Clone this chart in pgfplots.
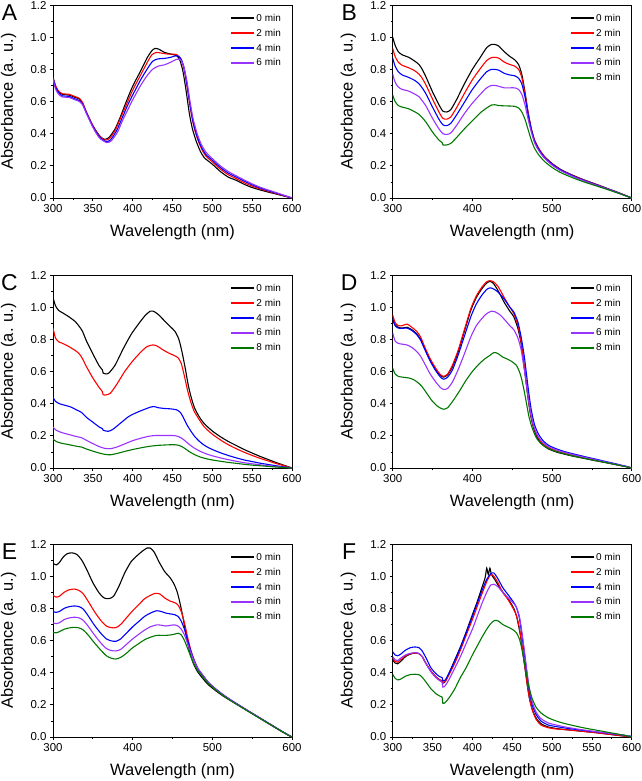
\documentclass[border=0pt]{standalone}
\usepackage{fontspec}
\setmainfont{Liberation Sans}
\usepackage{pgfplots}
\pgfplotsset{compat=1.18}
\definecolor{cBlack}{RGB}{0,0,0}
\definecolor{cRed}{RGB}{255,0,0}
\definecolor{cBlue}{RGB}{0,0,255}
\definecolor{cPurple}{RGB}{153,51,255}
\definecolor{cGreen}{RGB}{0,120,0}
\pgfplotsset{
  panel/.style={
    width=239bp, height=193bp, scale only axis,
    xmin=300, xmax=600, ymin=0, ymax=1.2,
    ytick={0,0.2,0.4,0.6,0.8,1.0,1.2},
    minor y tick num=1, minor x tick num=1,
    tick align=outside, xtick pos=left, ytick pos=left,
    major tick length=3bp, minor tick length=2bp,
    axis line style={line width=0.7bp},
    every tick/.style={line width=0.7bp, black},
    /pgf/number format/assume math mode=true,
    yticklabel style={/pgf/number format/.cd, fixed, fixed zerofill, precision=1},
    tick label style={font=\fontsize{11.5}{11.5}\selectfont},
    label style={font=\fontsize{16.5}{16.5}\selectfont},
    xlabel={Wavelength (nm)}, ylabel={Absorbance (a. u.)},
    xlabel style={at={(axis description cs:0.5,-0.176)}, anchor=center},
    ylabel style={at={(axis description cs:-0.186,0.5)}, anchor=center},
    scaled ticks=false, clip=true,
    every axis plot/.append style={line width=1.1bp, no marks, smooth, tension=0.4},
    legend style={draw=none, fill=none, at={(0.975,0.975)}, anchor=north east,
      font=\fontsize{10}{10}\selectfont, row sep=2.2bp},
    legend cell align=left,
    legend image code/.code={\fill[#1, draw=none] (0bp,-0.9bp) rectangle (23bp,0.9bp);},
  },
  panelA/.style={xtick={300,350,400,450,500,550,600}},
  panelB/.style={xtick={300,400,500,600}},
}
\newcommand{\plabel}[2]{\node[font=\fontsize{23}{23}\selectfont, anchor=center] at ([xshift=-43.5bp,yshift=-7.5bp]#1.north west) {#2};}
\begin{document}
\begin{tikzpicture}
\useasboundingbox (0,0) rectangle (642bp,-781bp);
% ---------------- A
\begin{axis}[panel, panelA, name=pA, at={(53bp,-198bp)}, anchor=south west]
\addplot[color=cBlack] coordinates {(300,0.75)(303,0.70)(307,0.66)(312,0.645)(320,0.64)(328,0.625)(333,0.615)(337,0.59)(342,0.53)(350,0.45)(358,0.39)(364,0.365)(370,0.375)(378,0.43)(385,0.51)(392,0.60)(400,0.695)(410,0.79)(418,0.87)(424,0.915)(428,0.93)(433,0.925)(440,0.905)(448,0.895)(455,0.885)(459,0.86)(463,0.79)(467,0.67)(471,0.53)(475,0.43)(480,0.35)(485,0.29)(490,0.25)(500,0.21)(510,0.165)(520,0.13)(530,0.11)(540,0.085)(550,0.065)(560,0.05)(570,0.037)(580,0.025)(590,0.012)(600,0.0)};
\addplot[color=cRed] coordinates {(300,0.75)(303,0.70)(307,0.665)(312,0.648)(320,0.645)(328,0.63)(333,0.62)(337,0.595)(342,0.535)(350,0.45)(358,0.385)(365,0.36)(371,0.37)(378,0.42)(385,0.50)(392,0.58)(400,0.67)(410,0.765)(418,0.84)(424,0.89)(430,0.905)(437,0.9)(444,0.895)(450,0.895)(456,0.89)(461,0.86)(465,0.79)(469,0.67)(473,0.54)(477,0.44)(482,0.36)(487,0.30)(492,0.26)(500,0.225)(510,0.18)(520,0.145)(530,0.12)(540,0.095)(550,0.074)(560,0.057)(570,0.042)(580,0.028)(590,0.014)(600,0.0)};
\addplot[color=cBlue] coordinates {(300,0.75)(303,0.69)(307,0.655)(312,0.635)(320,0.632)(328,0.615)(333,0.605)(337,0.585)(342,0.53)(350,0.445)(358,0.38)(366,0.352)(372,0.36)(380,0.42)(387,0.50)(394,0.58)(400,0.64)(410,0.735)(418,0.80)(425,0.85)(432,0.865)(440,0.868)(448,0.875)(455,0.885)(460,0.87)(464,0.82)(468,0.71)(472,0.58)(476,0.47)(481,0.38)(486,0.32)(492,0.27)(500,0.235)(510,0.19)(520,0.155)(530,0.13)(540,0.105)(550,0.082)(560,0.062)(570,0.046)(580,0.031)(590,0.016)(600,0.0)};
\addplot[color=cPurple] coordinates {(300,0.74)(303,0.68)(307,0.645)(312,0.628)(320,0.625)(328,0.61)(333,0.60)(337,0.58)(342,0.525)(350,0.44)(358,0.375)(367,0.345)(373,0.355)(381,0.41)(388,0.49)(395,0.56)(400,0.61)(410,0.70)(418,0.76)(425,0.80)(432,0.82)(440,0.828)(448,0.845)(455,0.862)(460,0.86)(464,0.82)(468,0.73)(472,0.60)(476,0.49)(481,0.40)(486,0.335)(492,0.285)(500,0.245)(510,0.20)(520,0.165)(530,0.138)(540,0.112)(550,0.088)(560,0.067)(570,0.05)(580,0.034)(590,0.017)(600,0.0)};
\legend{0 min,2 min,4 min,6 min}
\end{axis}
% ---------------- B
\begin{axis}[panel, panelB, name=pB, at={(392.7bp,-198bp)}, anchor=south west]
\addplot[color=cBlack] coordinates {(300,1.0)(303,0.95)(307,0.91)(312,0.89)(320,0.875)(328,0.85)(333,0.83)(337,0.80)(342,0.75)(350,0.66)(358,0.58)(363,0.54)(368,0.535)(373,0.55)(380,0.61)(390,0.71)(400,0.80)(410,0.875)(418,0.935)(424,0.955)(428,0.955)(433,0.945)(440,0.91)(447,0.88)(453,0.86)(458,0.83)(462,0.77)(466,0.66)(470,0.53)(474,0.43)(478,0.36)(483,0.31)(490,0.26)(500,0.215)(510,0.18)(520,0.155)(530,0.133)(540,0.113)(550,0.095)(560,0.077)(570,0.058)(580,0.04)(590,0.02)(600,0.0)};
\addplot[color=cRed] coordinates {(300,0.93)(303,0.88)(307,0.845)(312,0.825)(320,0.81)(328,0.79)(333,0.77)(337,0.745)(342,0.70)(350,0.615)(358,0.535)(363,0.495)(368,0.49)(373,0.505)(380,0.56)(390,0.65)(400,0.735)(410,0.805)(418,0.855)(424,0.873)(428,0.875)(433,0.87)(440,0.845)(447,0.83)(453,0.82)(458,0.80)(462,0.75)(466,0.65)(470,0.53)(474,0.43)(478,0.36)(483,0.31)(490,0.26)(500,0.213)(510,0.178)(520,0.153)(530,0.131)(540,0.111)(550,0.093)(560,0.075)(570,0.057)(580,0.039)(590,0.02)(600,0.0)};
\addplot[color=cBlue] coordinates {(300,0.87)(303,0.82)(307,0.785)(312,0.765)(320,0.75)(328,0.73)(333,0.71)(337,0.685)(342,0.645)(350,0.565)(358,0.49)(363,0.455)(368,0.45)(373,0.465)(380,0.515)(390,0.595)(400,0.675)(410,0.74)(418,0.785)(424,0.80)(428,0.80)(433,0.795)(440,0.775)(447,0.765)(453,0.76)(458,0.745)(462,0.71)(466,0.63)(470,0.52)(474,0.425)(478,0.355)(483,0.305)(490,0.255)(500,0.21)(510,0.176)(520,0.151)(530,0.129)(540,0.109)(550,0.091)(560,0.074)(570,0.056)(580,0.038)(590,0.019)(600,0.0)};
\addplot[color=cPurple] coordinates {(300,0.77)(303,0.72)(307,0.69)(312,0.675)(320,0.665)(328,0.645)(333,0.63)(337,0.605)(342,0.57)(350,0.495)(358,0.43)(363,0.40)(368,0.395)(373,0.405)(380,0.45)(390,0.525)(400,0.59)(410,0.645)(418,0.685)(424,0.70)(428,0.70)(433,0.695)(440,0.685)(447,0.685)(453,0.685)(458,0.675)(462,0.645)(466,0.58)(470,0.49)(474,0.41)(478,0.345)(483,0.297)(490,0.25)(500,0.205)(510,0.172)(520,0.148)(530,0.126)(540,0.107)(550,0.089)(560,0.072)(570,0.055)(580,0.037)(590,0.019)(600,0.0)};
\addplot[color=cGreen] coordinates {(300,0.64)(303,0.60)(307,0.575)(312,0.565)(320,0.555)(328,0.535)(333,0.52)(337,0.50)(342,0.47)(350,0.41)(358,0.36)(362,0.345)(363,0.33)(368,0.33)(373,0.34)(380,0.375)(390,0.43)(400,0.48)(410,0.53)(418,0.56)(424,0.578)(428,0.58)(433,0.575)(440,0.573)(447,0.572)(453,0.57)(458,0.56)(462,0.535)(466,0.49)(470,0.425)(474,0.36)(478,0.31)(483,0.27)(490,0.23)(500,0.19)(510,0.16)(520,0.138)(530,0.118)(540,0.1)(550,0.084)(560,0.068)(570,0.052)(580,0.035)(590,0.018)(600,0.0)};
\legend{0 min,2 min,4 min,6 min,8 min}
\end{axis}
% ---------------- C
\begin{axis}[panel, panelA, name=pC, at={(53bp,-468bp)}, anchor=south west]
\addplot[color=cBlack] coordinates {(300,1.06)(303,1.01)(307,0.98)(312,0.965)(320,0.94)(328,0.91)(333,0.88)(337,0.85)(342,0.79)(350,0.71)(358,0.635)(362,0.61)(363,0.59)(366,0.585)(370,0.59)(378,0.64)(388,0.74)(398,0.83)(408,0.90)(416,0.95)(422,0.975)(426,0.975)(432,0.955)(440,0.915)(447,0.88)(453,0.85)(458,0.80)(462,0.72)(466,0.62)(470,0.51)(474,0.43)(478,0.37)(484,0.315)(490,0.275)(500,0.23)(510,0.195)(520,0.165)(530,0.14)(540,0.115)(550,0.093)(560,0.072)(570,0.053)(580,0.034)(590,0.017)(600,0.0)};
\addplot[color=cRed] coordinates {(300,0.87)(303,0.81)(307,0.785)(312,0.775)(320,0.755)(328,0.73)(333,0.71)(337,0.68)(342,0.63)(350,0.56)(358,0.50)(362,0.475)(363,0.455)(367,0.455)(372,0.465)(380,0.52)(390,0.60)(400,0.665)(410,0.72)(418,0.755)(425,0.765)(430,0.76)(438,0.735)(445,0.715)(452,0.70)(457,0.685)(461,0.65)(465,0.57)(469,0.48)(473,0.41)(477,0.355)(483,0.305)(490,0.255)(500,0.21)(510,0.175)(520,0.145)(530,0.12)(540,0.098)(550,0.078)(560,0.06)(570,0.044)(580,0.028)(590,0.014)(600,0.0)};
\addplot[color=cBlue] coordinates {(300,0.44)(303,0.415)(308,0.40)(315,0.39)(322,0.38)(330,0.36)(336,0.345)(342,0.315)(350,0.285)(358,0.255)(362,0.245)(363,0.235)(369,0.228)(375,0.24)(385,0.28)(395,0.32)(405,0.345)(415,0.365)(422,0.378)(427,0.382)(432,0.375)(440,0.37)(447,0.368)(455,0.362)(460,0.345)(464,0.31)(468,0.27)(473,0.23)(478,0.195)(485,0.16)(492,0.135)(500,0.115)(510,0.095)(520,0.078)(530,0.063)(540,0.05)(550,0.04)(560,0.03)(570,0.022)(580,0.014)(590,0.007)(600,0.0)};
\addplot[color=cPurple] coordinates {(300,0.255)(304,0.235)(310,0.222)(320,0.208)(330,0.195)(336,0.188)(342,0.172)(350,0.152)(358,0.133)(365,0.122)(372,0.12)(380,0.13)(390,0.15)(400,0.17)(410,0.185)(420,0.197)(428,0.202)(440,0.202)(450,0.202)(456,0.198)(461,0.187)(466,0.168)(471,0.147)(477,0.125)(485,0.103)(493,0.087)(500,0.076)(510,0.063)(520,0.052)(530,0.042)(540,0.033)(550,0.026)(560,0.02)(570,0.014)(580,0.009)(590,0.004)(600,0.0)};
\addplot[color=cGreen] coordinates {(300,0.18)(304,0.165)(310,0.155)(320,0.145)(330,0.135)(336,0.13)(342,0.118)(350,0.105)(358,0.093)(365,0.085)(372,0.082)(380,0.09)(390,0.103)(400,0.115)(410,0.125)(420,0.134)(430,0.14)(440,0.143)(450,0.145)(456,0.143)(461,0.135)(466,0.12)(471,0.102)(477,0.085)(485,0.068)(493,0.057)(500,0.05)(510,0.042)(520,0.035)(530,0.029)(540,0.023)(550,0.018)(560,0.014)(570,0.01)(580,0.006)(590,0.003)(600,0.0)};
\legend{0 min,2 min,4 min,6 min,8 min}
\end{axis}
% ---------------- D
\begin{axis}[panel, panelB, name=pD, at={(392.7bp,-468bp)}, anchor=south west]
\addplot[color=cBlack] coordinates {(300,0.92)(303,0.89)(307,0.875)(312,0.87)(318,0.875)(324,0.86)(330,0.835)(335,0.80)(340,0.745)(347,0.67)(354,0.61)(360,0.575)(364,0.565)(369,0.58)(375,0.63)(382,0.72)(390,0.85)(398,0.98)(405,1.06)(412,1.115)(418,1.15)(422,1.16)(426,1.15)(432,1.105)(440,1.03)(447,0.975)(452,0.94)(457,0.87)(461,0.78)(464,0.67)(467,0.55)(470,0.43)(473,0.33)(477,0.245)(482,0.185)(488,0.145)(495,0.12)(505,0.1)(515,0.087)(525,0.075)(535,0.065)(545,0.055)(555,0.045)(565,0.036)(575,0.026)(585,0.016)(595,0.006)(600,0.0)};
\addplot[color=cRed] coordinates {(300,0.95)(303,0.905)(307,0.885)(312,0.885)(318,0.895)(324,0.875)(330,0.85)(335,0.815)(340,0.755)(347,0.68)(354,0.62)(360,0.58)(364,0.57)(369,0.585)(375,0.64)(382,0.73)(390,0.86)(398,0.99)(405,1.07)(412,1.125)(418,1.158)(422,1.165)(426,1.16)(432,1.13)(440,1.06)(447,1.0)(452,0.96)(457,0.89)(461,0.79)(464,0.68)(467,0.56)(470,0.44)(473,0.34)(477,0.255)(482,0.195)(488,0.153)(495,0.127)(505,0.106)(515,0.092)(525,0.08)(535,0.069)(545,0.058)(555,0.048)(565,0.038)(575,0.028)(585,0.017)(595,0.007)(600,0.0)};
\addplot[color=cBlue] coordinates {(300,0.93)(303,0.885)(307,0.87)(312,0.868)(318,0.87)(324,0.855)(330,0.83)(335,0.795)(340,0.74)(347,0.665)(354,0.605)(360,0.565)(364,0.552)(369,0.565)(375,0.61)(382,0.70)(390,0.82)(398,0.94)(405,1.02)(412,1.075)(418,1.11)(422,1.12)(426,1.115)(432,1.095)(440,1.05)(447,1.0)(452,0.97)(457,0.91)(461,0.82)(465,0.70)(468,0.58)(471,0.46)(474,0.36)(478,0.27)(483,0.21)(489,0.168)(496,0.14)(505,0.12)(515,0.103)(525,0.09)(535,0.078)(545,0.066)(555,0.055)(565,0.043)(575,0.032)(585,0.02)(595,0.008)(600,0.0)};
\addplot[color=cPurple] coordinates {(300,0.84)(303,0.79)(307,0.775)(312,0.77)(318,0.765)(324,0.75)(330,0.725)(335,0.695)(340,0.65)(347,0.585)(354,0.535)(360,0.5)(364,0.488)(369,0.495)(375,0.535)(382,0.61)(390,0.71)(398,0.815)(405,0.885)(412,0.93)(418,0.96)(424,0.975)(428,0.972)(434,0.955)(440,0.925)(447,0.885)(452,0.86)(457,0.81)(461,0.74)(464,0.65)(467,0.55)(470,0.44)(473,0.345)(477,0.26)(482,0.2)(488,0.16)(495,0.134)(505,0.113)(515,0.098)(525,0.085)(535,0.073)(545,0.062)(555,0.051)(565,0.04)(575,0.029)(585,0.018)(595,0.007)(600,0.0)};
\addplot[color=cGreen] coordinates {(300,0.62)(303,0.585)(307,0.57)(312,0.565)(320,0.56)(326,0.55)(332,0.53)(337,0.505)(342,0.47)(349,0.42)(356,0.385)(361,0.37)(364,0.365)(369,0.375)(376,0.42)(384,0.48)(392,0.545)(400,0.6)(408,0.645)(416,0.68)(422,0.7)(427,0.718)(432,0.712)(438,0.69)(445,0.675)(450,0.66)(455,0.64)(459,0.6)(462,0.55)(465,0.48)(468,0.4)(471,0.32)(475,0.25)(480,0.19)(486,0.152)(493,0.128)(502,0.108)(512,0.093)(522,0.08)(532,0.069)(542,0.059)(552,0.049)(562,0.039)(572,0.029)(582,0.019)(592,0.009)(600,0.0)};
\legend{0 min,2 min,4 min,6 min,8 min}
\end{axis}
% ---------------- E
\begin{axis}[panel, panelB, name=pE, at={(53bp,-737bp)}, anchor=south west]
\addplot[color=cBlack] coordinates {(300,1.08)(304,1.07)(308,1.085)(313,1.12)(318,1.14)(324,1.145)(330,1.135)(336,1.1)(342,1.045)(350,0.96)(358,0.895)(364,0.865)(370,0.86)(376,0.875)(383,0.94)(390,1.02)(398,1.09)(405,1.125)(412,1.155)(418,1.175)(422,1.175)(427,1.15)(433,1.09)(440,1.03)(447,0.99)(452,0.95)(456,0.9)(460,0.82)(464,0.72)(468,0.61)(472,0.52)(476,0.46)(481,0.41)(487,0.37)(495,0.325)(505,0.285)(515,0.25)(525,0.22)(535,0.19)(545,0.16)(555,0.13)(565,0.1)(575,0.07)(585,0.04)(595,0.013)(600,0.0)};
\addplot[color=cRed] coordinates {(300,0.88)(304,0.87)(308,0.875)(314,0.9)(320,0.915)(327,0.92)(333,0.91)(338,0.89)(344,0.845)(352,0.78)(360,0.725)(367,0.69)(373,0.68)(379,0.68)(385,0.7)(392,0.74)(400,0.785)(408,0.825)(415,0.86)(422,0.88)(428,0.893)(434,0.89)(440,0.865)(447,0.845)(453,0.835)(457,0.82)(461,0.78)(465,0.71)(469,0.62)(473,0.54)(477,0.48)(482,0.42)(488,0.38)(495,0.335)(505,0.292)(515,0.255)(525,0.223)(535,0.192)(545,0.162)(555,0.132)(565,0.102)(575,0.072)(585,0.042)(595,0.013)(600,0.0)};
\addplot[color=cBlue] coordinates {(300,0.78)(304,0.775)(308,0.78)(314,0.8)(320,0.81)(327,0.815)(333,0.81)(338,0.795)(344,0.755)(352,0.695)(360,0.645)(367,0.61)(373,0.598)(379,0.595)(385,0.61)(392,0.645)(400,0.685)(408,0.72)(415,0.75)(422,0.77)(430,0.785)(436,0.78)(442,0.77)(448,0.765)(453,0.76)(457,0.75)(461,0.72)(465,0.67)(469,0.6)(473,0.535)(477,0.48)(482,0.425)(488,0.385)(495,0.34)(505,0.296)(515,0.258)(525,0.225)(535,0.194)(545,0.163)(555,0.133)(565,0.103)(575,0.073)(585,0.043)(595,0.013)(600,0.0)};
\addplot[color=cPurple] coordinates {(300,0.71)(304,0.705)(308,0.71)(314,0.73)(320,0.74)(327,0.745)(333,0.74)(338,0.725)(344,0.69)(352,0.635)(360,0.585)(367,0.55)(373,0.538)(379,0.535)(385,0.545)(392,0.575)(400,0.61)(408,0.64)(415,0.665)(422,0.685)(430,0.697)(436,0.695)(442,0.69)(448,0.695)(453,0.697)(457,0.69)(461,0.67)(465,0.635)(469,0.58)(473,0.525)(477,0.475)(482,0.425)(488,0.385)(495,0.34)(505,0.295)(515,0.257)(525,0.224)(535,0.193)(545,0.162)(555,0.132)(565,0.102)(575,0.072)(585,0.042)(595,0.013)(600,0.0)};
\addplot[color=cGreen] coordinates {(300,0.65)(304,0.648)(308,0.655)(314,0.67)(320,0.678)(327,0.682)(333,0.678)(338,0.665)(344,0.635)(352,0.585)(360,0.54)(367,0.505)(373,0.49)(379,0.485)(385,0.495)(392,0.52)(400,0.555)(408,0.582)(415,0.605)(422,0.62)(430,0.632)(436,0.632)(442,0.632)(448,0.635)(453,0.64)(457,0.645)(461,0.635)(465,0.6)(469,0.55)(473,0.5)(477,0.455)(482,0.41)(488,0.375)(495,0.333)(505,0.29)(515,0.253)(525,0.22)(535,0.19)(545,0.16)(555,0.13)(565,0.1)(575,0.071)(585,0.041)(595,0.012)(600,0.0)};
\legend{0 min,2 min,4 min,6 min,8 min}
\end{axis}
% ---------------- F
\begin{axis}[panel, panelA, name=pF, at={(392.7bp,-737bp)}, anchor=south west]
\addplot[color=cBlack] coordinates {(300,0.48)(303,0.46)(306,0.455)(310,0.47)(316,0.5)(322,0.515)(328,0.522)(333,0.518)(337,0.5)(342,0.455)(348,0.41)(354,0.375)(359,0.355)(362,0.35)(363,0.335)(366,0.345)(371,0.4)(378,0.48)(385,0.56)(392,0.65)(400,0.76)(406,0.84)(412,0.93)(416,0.99)(418,1.05)(420,1.01)(422,1.05)(424,1.01)(428,0.98)(434,0.93)(440,0.89)(446,0.85)(452,0.80)(456,0.74)(460,0.64)(463,0.54)(466,0.43)(469,0.32)(472,0.23)(476,0.16)(481,0.11)(487,0.08)(495,0.063)(505,0.053)(515,0.047)(525,0.042)(535,0.037)(545,0.032)(555,0.027)(565,0.021)(575,0.015)(585,0.009)(595,0.003)(600,0.0)};
\addplot[color=cRed] coordinates {(300,0.49)(303,0.47)(306,0.465)(310,0.48)(316,0.505)(322,0.518)(328,0.522)(333,0.518)(337,0.5)(342,0.455)(348,0.41)(354,0.375)(359,0.355)(362,0.35)(363,0.34)(366,0.345)(371,0.39)(378,0.46)(385,0.54)(392,0.63)(400,0.73)(406,0.81)(412,0.89)(418,0.965)(423,1.01)(427,1.0)(432,0.96)(438,0.9)(444,0.86)(450,0.81)(455,0.76)(459,0.68)(462,0.58)(465,0.47)(468,0.36)(471,0.26)(475,0.17)(480,0.11)(486,0.075)(495,0.058)(505,0.05)(515,0.046)(525,0.042)(535,0.037)(545,0.032)(555,0.027)(565,0.021)(575,0.015)(585,0.009)(595,0.003)(600,0.0)};
\addplot[color=cBlue] coordinates {(300,0.53)(303,0.51)(306,0.505)(310,0.515)(316,0.54)(322,0.555)(328,0.56)(333,0.555)(337,0.535)(342,0.49)(348,0.43)(354,0.395)(359,0.375)(362,0.37)(363,0.35)(366,0.355)(371,0.4)(378,0.475)(385,0.555)(392,0.645)(400,0.75)(406,0.83)(412,0.91)(418,0.98)(423,1.015)(427,1.02)(432,0.985)(438,0.93)(444,0.89)(450,0.85)(455,0.81)(459,0.74)(462,0.64)(465,0.53)(468,0.41)(471,0.3)(475,0.2)(480,0.14)(486,0.1)(495,0.075)(505,0.065)(515,0.057)(525,0.05)(535,0.044)(545,0.038)(555,0.032)(565,0.026)(575,0.02)(585,0.014)(595,0.007)(600,0.004)};
\addplot[color=cPurple] coordinates {(300,0.50)(303,0.48)(306,0.475)(310,0.49)(316,0.51)(322,0.52)(328,0.525)(333,0.52)(337,0.5)(342,0.455)(348,0.405)(354,0.37)(359,0.35)(362,0.34)(363,0.31)(366,0.32)(371,0.36)(378,0.43)(385,0.5)(392,0.58)(400,0.67)(406,0.75)(412,0.83)(418,0.9)(423,0.945)(427,0.95)(432,0.935)(438,0.9)(444,0.87)(450,0.84)(455,0.81)(459,0.75)(462,0.66)(465,0.55)(468,0.43)(471,0.32)(475,0.22)(480,0.155)(486,0.115)(495,0.088)(505,0.075)(515,0.064)(525,0.055)(535,0.047)(545,0.04)(555,0.033)(565,0.027)(575,0.021)(585,0.015)(595,0.008)(600,0.005)};
\addplot[color=cGreen] coordinates {(300,0.39)(303,0.365)(306,0.355)(310,0.36)(316,0.378)(322,0.388)(328,0.39)(333,0.387)(337,0.372)(342,0.34)(348,0.3)(354,0.27)(359,0.255)(362,0.248)(363,0.21)(366,0.215)(371,0.245)(378,0.3)(385,0.37)(392,0.43)(400,0.51)(406,0.565)(412,0.62)(418,0.67)(423,0.705)(428,0.725)(433,0.72)(438,0.7)(444,0.685)(450,0.67)(455,0.65)(459,0.61)(462,0.55)(465,0.47)(468,0.39)(471,0.31)(475,0.24)(480,0.185)(486,0.15)(495,0.12)(505,0.1)(515,0.085)(525,0.073)(535,0.062)(545,0.052)(555,0.043)(565,0.034)(575,0.025)(585,0.016)(595,0.007)(600,0.0)};
\legend{0 min,2 min,4 min,6 min,8 min}
\end{axis}
\plabel{pA}{A}
\plabel{pB}{B}
\plabel{pC}{C}
\plabel{pD}{D}
\plabel{pE}{E}
\plabel{pF}{F}
\end{tikzpicture}
\end{document}
